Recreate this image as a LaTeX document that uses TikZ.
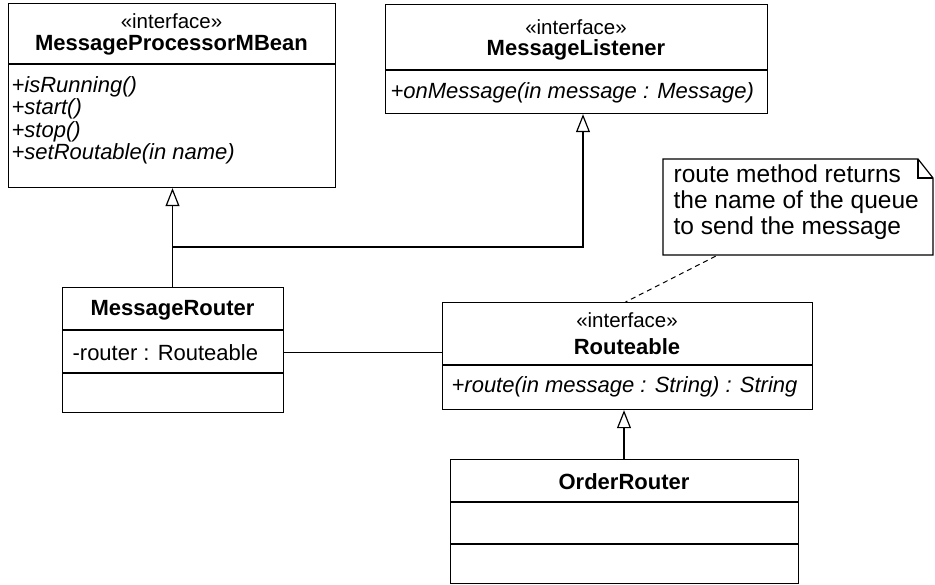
\documentclass[tikz,border=0pt]{standalone}
\usepackage{fontspec}
\setmainfont{Liberation Sans}
\usetikzlibrary{arrows.meta}
\begin{document}
\begin{tikzpicture}[x=1pt,y=-1pt,
  every node/.style={inner sep=0pt, font=\fontsize{22}{26}\selectfont, text height=15.75pt, text depth=0pt},
  box/.style={draw, line width=1.2pt, minimum width=#1, anchor=north west, text height=, text depth=},
  sep/.style={line width=1.2pt},
  inh/.style={line width=1.2pt, -{Triangle[open, length=18pt, width=14pt, fill=white]}},
  ster/.style={anchor=center, font=\fontsize{20.5}{24}\selectfont, text height=14.7pt},
  cname/.style={anchor=center, font=\fontsize{22}{26}\selectfont\bfseries},
  meth/.style={anchor=west, font=\fontsize{22}{26}\selectfont\itshape},
  attr/.style={anchor=west},
  notetext/.style={anchor=west, font=\fontsize{24.5}{28}\selectfont, text height=17.5pt},
  line width=1.2pt]
\useasboundingbox (0,0) rectangle (935,585);

% MessageProcessorMBean
\node[box=327pt, minimum height=184pt] (mpm) at (8,3) {};
\draw[sep] (8,64) -- (335,64);
\node[ster] (mpmS) at (171.5,21) {«interface»};
\node[cname] (mpmN) at (171.5,42.5) {MessageProcessorMBean};
\node[meth] (mpm1) at (11,84.5) {+isRunning()};
\node[meth] (mpm2) at (11,107) {+start()};
\node[meth] (mpm3) at (11,129.5) {+stop()};
\node[meth] (mpm4) at (11,152) {+setRoutable(in name)};

% MessageListener
\node[box=382pt, minimum height=109pt] (ml) at (385,4) {};
\draw[sep] (385,70) -- (767,70);
\node[ster] (mlS) at (576,27) {«interface»};
\node[cname] (mlN) at (576,48) {MessageListener};
\node[meth] (ml1) at (390,91) {+onMessage(in message : Message)};

% MessageRouter
\node[box=221pt, minimum height=125pt] (mr) at (62,287) {};
\draw[sep] (62,330) -- (283,330);
\draw[sep] (62,373) -- (283,373);
\node[cname] (mrN) at (172.5,308) {MessageRouter};
\node[attr] (mr1) at (72,352.5) {-router : Routeable};

% Routeable
\node[box=370pt, minimum height=107pt] (rt) at (442,302) {};
\draw[sep] (442,365) -- (812,365);
\node[ster] (rtS) at (627,320) {«interface»};
\node[cname] (rtN) at (627,347) {Routeable};
\node[meth] (rt1) at (451,384.5) {+route(in message : String) : String};

% OrderRouter
\node[box=348pt, minimum height=124pt] (or) at (450,459) {};
\draw[sep] (450,502) -- (798,502);
\draw[sep] (450,544) -- (798,544);
\node[cname] (orN) at (624,482) {OrderRouter};

% Note
\node[minimum width=270pt, minimum height=96pt, anchor=north west, text height=, text depth=] (note) at (663,159) {};
\draw (663,159) -- (918,159) -- (933,178) -- (933,255) -- (663,255) -- cycle;
\draw (918,159) -- (918,178) -- (933,178);
\node[notetext] (n1) at (673,174) {route method returns};
\node[notetext] (n2) at (673,200) {the name of the queue};
\node[notetext] (n3) at (673,225.5) {to send the message};

% connectors
\coordinate (j1) at (172.5,247);
\coordinate (j2) at (583,247);
\draw[inh] (j1 |- mr.north) -- (j1 |- mpm.south);
\draw[inh] (j1) -- (j2) -- (j2 |- ml.south);
\draw (mr.east |- mr1) -- (rt.west |- mr1);
\draw[inh] (or.north -| orN) -- (orN |- rt.south);
\draw[dashed, dash pattern=on 5pt off 4pt, line width=1pt] ([xshift=-83pt]note.south) -- ([xshift=-2pt]rt.north);
\end{tikzpicture}
\end{document}
